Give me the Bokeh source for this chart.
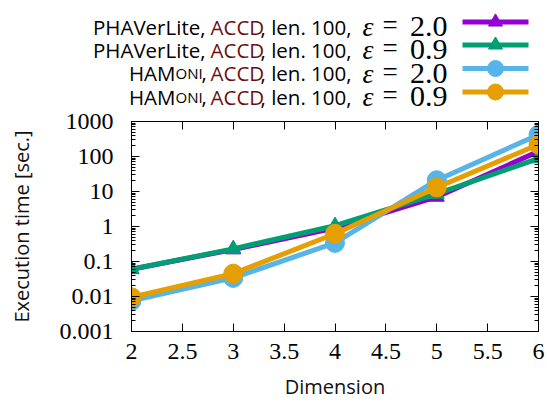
from bokeh.plotting import figure
from bokeh.models import (Range1d, FixedTicker, CustomJSTickFormatter,
                          LinearAxis, LogAxis)
from bokeh.core.properties import value
from bokeh.embed import file_html
from bokeh.resources import INLINE

# Execution times [sec.] per dimension
dims = [2, 3, 4, 5, 6]
phaverlite_eps20 = [0.06, 0.22, 0.9, 7.0, 140]
phaverlite_eps09 = [0.06, 0.23, 1.05, 8.5, 88]
hamoni_eps20 = [0.0075, 0.034, 0.34, 21, 420]
hamoni_eps09 = [0.0095, 0.045, 0.62, 13, 220]

x_ticks = [2, 2.5, 3, 3.5, 4, 4.5, 5, 5.5, 6]
y_ticks = [0.001, 0.01, 0.1, 1, 10, 100, 1000]
y_minor = [k * 10.0 ** e for e in range(-3, 3) for k in range(2, 10)]

eps_labels = ["2.0", "0.9", "2.0", "0.9"]
tool_names = ["PHAVerLite", "PHAVerLite", "HAMoni", "HAMoni"]

PURPLE = "#9400d3"
GREEN = "#009e73"
BLUE = "#56b4e9"
ORANGE = "#e69f00"
ACCD_RED = "#6b1010"

SANS = "Open Sans"
SERIF = "Liberation Serif"

series = [
    (phaverlite_eps20, PURPLE, "triangle"),
    (phaverlite_eps09, GREEN, "triangle"),
    (hamoni_eps20, BLUE, "circle"),
    (hamoni_eps09, ORANGE, "circle"),
]

LEGEND_H = 111

# ---------------- main plot ----------------
p = figure(width=547, height=402 - LEGEND_H, x_range=Range1d(2, 6),
           y_range=Range1d(0.001, 1000), y_axis_type="log",
           output_backend="svg", toolbar_location=None,
           min_border_left=131, min_border_right=9,
           min_border_top=121 - LEGEND_H, min_border_bottom=65)
p.grid.visible = False
p.outline_line_color = "black"
p.outline_line_width = 1
p.background_fill_color = "white"

fmt = CustomJSTickFormatter(code="return tick.toString();")
blank = CustomJSTickFormatter(code="return '';")
xt = FixedTicker(ticks=x_ticks)
yt = FixedTicker(ticks=y_ticks, minor_ticks=y_minor)

def style_axis(ax):
    ax.axis_line_color = "black"
    ax.major_tick_in = 8
    ax.major_tick_out = 0
    ax.minor_tick_in = 4
    ax.minor_tick_out = 0
    ax.major_tick_line_color = "black"
    ax.minor_tick_line_color = "black"
    ax.major_label_text_font = SERIF
    ax.major_label_text_font_size = "24px"
    ax.major_label_text_color = "black"

xa = p.xaxis[0]
xa.ticker = xt
xa.formatter = fmt
style_axis(xa)
xa.minor_tick_line_color = None
xa.major_label_standoff = 12
xa.axis_label = "Dimension"
xa.axis_label_text_font = SANS
xa.axis_label_text_font_size = "20px"
xa.axis_label_text_font_style = "normal"
xa.axis_label_text_color = "#111111"
xa.axis_label_standoff = 11

ya = p.yaxis[0]
ya.ticker = yt
ya.formatter = fmt
style_axis(ya)
ya.major_label_standoff = 18
ya.axis_label = "Execution time [sec.]"
ya.axis_label_text_font = SANS
ya.axis_label_text_font_size = "20px"
ya.axis_label_text_font_style = "normal"
ya.axis_label_text_color = "#111111"
ya.axis_label_standoff = 22

# mirrored ticks on the top and right borders
top = LinearAxis(ticker=xt, formatter=blank)
style_axis(top)
top.minor_tick_line_color = None
top.major_label_text_font_size = "1px"
top.major_label_standoff = 0
p.add_layout(top, "above")
right = LogAxis(ticker=yt, formatter=blank)
style_axis(right)
right.major_label_text_font_size = "1px"
right.major_label_standoff = 0
p.add_layout(right, "right")

for ys, color, marker in series:
    p.line(dims, ys, line_color=color, line_width=5)
    if marker == "triangle":
        p.scatter(dims, ys, marker="triangle", size=15, fill_color=color,
                  line_color=color)
    else:
        p.scatter(dims, ys, marker="circle", size=19, fill_color=color,
                  line_color=color)

# ---------------- legend strip (pixel coordinates) ----------------
lf = figure(width=547, height=LEGEND_H, x_range=Range1d(0, 547),
            y_range=Range1d(LEGEND_H, 0), output_backend="svg",
            toolbar_location=None, min_border=0,
            min_border_left=0, min_border_right=0,
            min_border_top=0, min_border_bottom=0)
lf.axis.visible = False
lf.grid.visible = False
lf.outline_line_color = None

def txt(x, y, s, align="left", font=SANS, size="20.5px", color="black",
        style="normal"):
    lf.text(x=[x], y=[y], text=[s], text_align=align,
            text_baseline="alphabetic", text_font=value(font),
            text_font_size=size, text_color=color, text_font_style=style)

row_y = [21.5, 44.5, 68, 91.5]
for i, (name, eps, (ys, color, marker)) in enumerate(zip(tool_names, eps_labels, series)):
    y = row_y[i]
    base = y + 4.5
    if name == "HAMoni":
        txt(175, base, "HAM", align="right")
        txt(175, base, "ONI", size="15px")
        txt(201, base, ",")
    else:
        txt(205, base, name + ",", align="right")
    txt(210, base, "ACCD", color=ACCD_RED)
    txt(260, base, ", len. 100,")
    txt(362, base, "ε", font=SERIF, size="28px", style="italic")
    txt(382, base - 1.5, "=", font=SERIF, size="27px")
    txt(447, base, eps, align="right", font=SERIF, size="30px")
    # legend key
    lf.segment(x0=[462], y0=[y], x1=[528], y1=[y], line_color=color,
               line_width=5)
    if marker == "triangle":
        lf.scatter([495], [y], marker="triangle", size=14, fill_color=color,
                   line_color=color)
    else:
        lf.scatter([495], [y], marker="circle", size=16, fill_color=color,
                   line_color=color)

# two separate roots, stacked: legend strip on top of the chart
open("out.html", "w").write(file_html([lf, p], INLINE))
